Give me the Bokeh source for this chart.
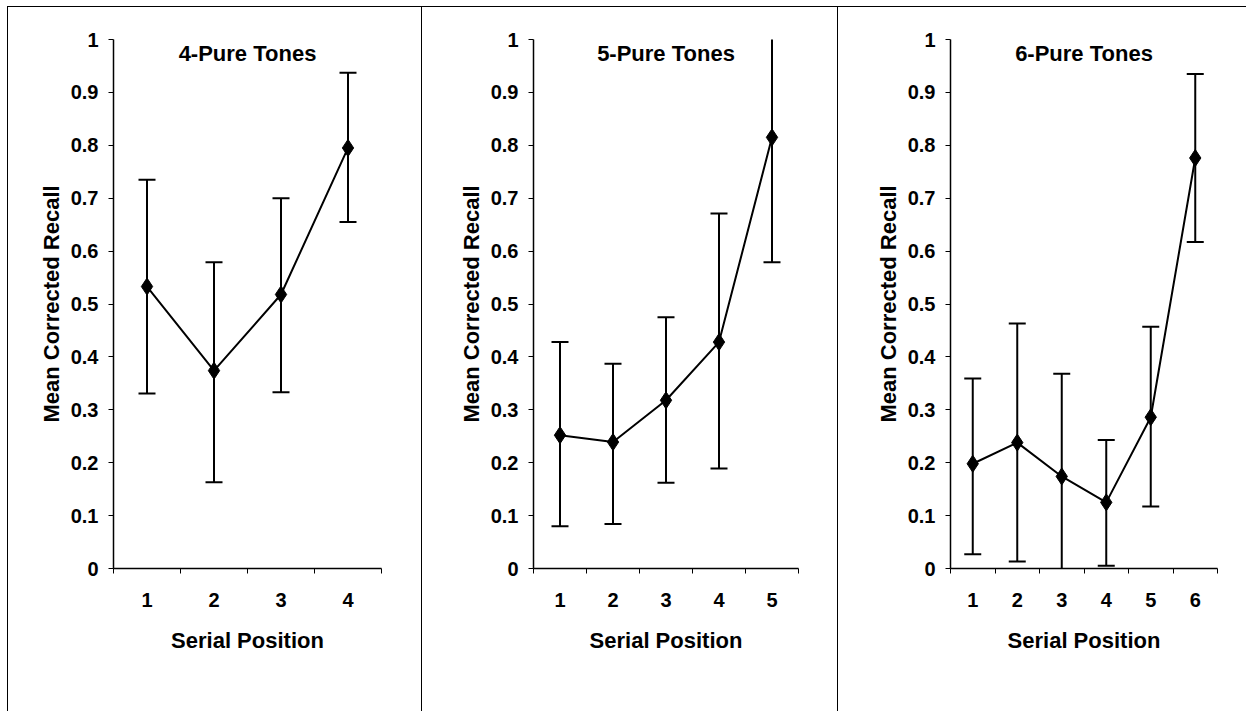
from bokeh.plotting import figure
from bokeh.layouts import row
from bokeh.models import FixedTicker, NumeralTickFormatter, Label
from bokeh.embed import file_html
from bokeh.resources import INLINE

# ---- data ----
titles = ["4-Pure Tones", "5-Pure Tones", "6-Pure Tones"]
x_label = "Serial Position"
y_label = "Mean Corrected Recall"

means_4 = [0.533, 0.374, 0.518, 0.795]
upper_4 = [0.735, 0.579, 0.700, 0.937]
lower_4 = [0.331, 0.163, 0.333, 0.655]

means_5 = [0.252, 0.239, 0.318, 0.428, 0.815]
upper_5 = [0.428, 0.387, 0.475, 0.671, 1.016]
lower_5 = [0.080, 0.084, 0.162, 0.189, 0.579]

means_6 = [0.198, 0.238, 0.174, 0.125, 0.286, 0.776]
upper_6 = [0.359, 0.463, 0.368, 0.243, 0.457, 0.935]
lower_6 = [0.027, 0.013, -0.020, 0.005, 0.117, 0.617]

y_ticks = [0, 0.1, 0.2, 0.3, 0.4, 0.5, 0.6, 0.7, 0.8, 0.9, 1.0]

series = [(means_4, upper_4, lower_4), (means_5, upper_5, lower_5), (means_6, upper_6, lower_6)]

# ---- layout (px) ----
panel_left = [105, 111, 112]
panel_frame_w = [267, 264, 266]
panel_right = [41, 40, 30]
FRAME_H = 528
TOP = 32
BOTTOM = 144

FONT = "Liberation Sans"

figs = []
for i, (title, (m, hi, lo)) in enumerate(zip(titles, series)):
    n = len(m)
    xs = list(range(1, n + 1))
    p = figure(
        frame_width=panel_frame_w[i], frame_height=FRAME_H,
        min_border_left=panel_left[i], min_border_right=panel_right[i],
        min_border_top=TOP, min_border_bottom=BOTTOM,
        x_range=(0.5, n + 0.5), y_range=(0, 1),
        output_backend="svg", toolbar_location=None,
        background_fill_color="white", border_fill_color="white",
        outline_line_color=None,
        styles={"border-left": "1px solid black", "border-top": "1px solid black"},
    )
    p.grid.visible = False

    # x axis
    xa = p.xaxis[0]
    xa.ticker = FixedTicker(ticks=xs, minor_ticks=[k + 0.5 for k in range(0, n + 1)])
    xa.major_tick_line_color = None
    xa.major_tick_out = 0
    xa.major_tick_in = 0
    xa.minor_tick_out = 5
    xa.minor_tick_in = 0
    xa.minor_tick_line_color = "black"
    xa.minor_tick_line_width = 1
    xa.axis_line_color = "black"
    xa.axis_line_width = 1.5
    xa.major_label_standoff = 19
    xa.major_label_text_font = FONT
    xa.major_label_text_font_size = "20px"
    xa.major_label_text_font_style = "bold"
    xa.major_label_text_color = "black"
    xa.axis_label = x_label
    xa.axis_label_text_font = FONT
    xa.axis_label_text_font_size = "22px"
    xa.axis_label_text_font_style = "bold"
    xa.axis_label_text_color = "black"
    xa.axis_label_standoff = 18

    # y axis
    ya = p.yaxis[0]
    ya.ticker = FixedTicker(ticks=y_ticks, minor_ticks=[])
    ya.formatter = NumeralTickFormatter(format="0.[0]")
    ya.major_tick_out = 5
    ya.major_tick_in = 0
    ya.major_tick_line_color = "black"
    ya.minor_tick_line_color = None
    ya.axis_line_color = "black"
    ya.axis_line_width = 1.5
    ya.major_label_standoff = 10
    ya.major_label_text_font = FONT
    ya.major_label_text_font_size = "20px"
    ya.major_label_text_font_style = "bold"
    ya.major_label_text_color = "black"
    ya.axis_label = y_label
    ya.axis_label_text_font = FONT
    ya.axis_label_text_font_size = "22px"
    ya.axis_label_text_font_style = "bold"
    ya.axis_label_text_color = "black"
    ya.axis_label_standoff = 4

    # error bars
    p.segment(x0=xs, y0=lo, x1=xs, y1=hi, line_color="black", line_width=2)
    p.scatter(x=xs, y=hi, marker="dash", size=17, line_color="black", line_width=2)
    p.scatter(x=xs, y=lo, marker="dash", size=17, line_color="black", line_width=2)

    # mean line + diamonds
    p.line(x=xs, y=m, line_color="black", line_width=2)
    p.scatter(x=xs, y=m, marker="diamond", size=17, fill_color="black", line_color="black")

    p.add_layout(Label(x=(n + 1) / 2, y=1, y_offset=-1, text=title,
                       text_align="center", text_baseline="top",
                       text_font=FONT, text_font_size="22px", text_font_style="bold",
                       text_color="black"))
    figs.append(p)

layout = row(*figs, spacing=0, styles={"margin-left": "7px", "margin-top": "6px"})
open("out.html", "w").write(file_html(layout, INLINE))
